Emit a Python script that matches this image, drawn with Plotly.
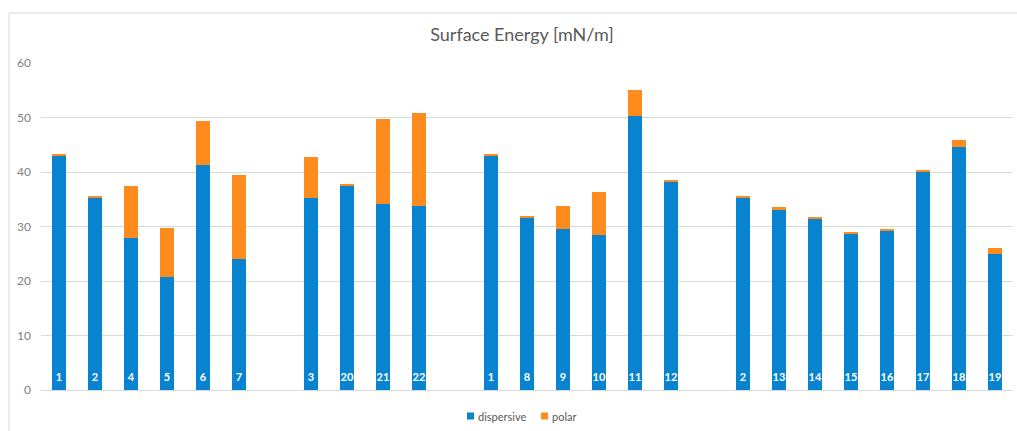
import plotly.graph_objects as go

# Sample groups (bar labels), in plotting order; a blank slot separates groups
groups = [
    ["1", "2", "4", "5", "6", "7"],
    ["3", "20", "21", "22"],
    ["1", "8", "9", "10", "11", "12"],
    ["2", "13", "14", "15", "16", "17", "18", "19"],
]

# Surface energy components [mN/m]
dispersive = [
    43.0, 35.3, 27.8, 20.8, 41.2, 24.1,
    35.2, 37.5, 34.1, 33.8,
    43.0, 31.7, 29.5, 28.4, 50.3, 38.3,
    35.3, 33.2, 31.3, 28.7, 29.2, 40.1, 44.6, 25.0,
]
polar = [
    0.2, 0.2, 9.6, 9.0, 8.2, 15.3,
    7.5, 0.2, 15.7, 17.0,
    0.2, 0.2, 4.2, 8.0, 4.8, 0.2,
    0.2, 0.3, 0.5, 0.2, 0.2, 0.2, 1.3, 1.1,
]

series_names = ["dispersive", "polar"]
y_ticks = [0, 10, 20, 30, 40, 50, 60]

# Slot positions: one slot per bar, plus an empty slot between groups
labels, slots = [], []
pos = 0
for gi, g in enumerate(groups):
    if gi > 0:
        pos += 1
    for name in g:
        labels.append(name)
        slots.append(pos)
        pos += 1
n_slots = pos

BLUE = "#0783d0"
ORANGE = "#fd8b1e"
GREY = "#595959"
TICK_GREY = "#808080"
FONT = "Lato"

# Plot-area geometry in pixels, used to place the frame and legend in paper units
W, H = 1017, 431
ML, MR, MT, MB = 41, 4, 63, 41
PW, PH = W - ML - MR, H - MT - MB


def px_x(px):
    return (px - ML) / PW


def px_y(py):
    return (H - MB - py) / PH


fig = go.Figure()
fig.add_trace(go.Bar(
    x=slots, y=dispersive, name=series_names[0],
    marker=dict(color=BLUE, line=dict(width=0)), width=0.39,
))
fig.add_trace(go.Bar(
    x=slots, y=polar, name=series_names[1],
    marker=dict(color=ORANGE, line=dict(width=0)), width=0.39,
))
# Sample numbers written at the foot of each bar
fig.add_trace(go.Scatter(
    x=slots, y=[2.2] * len(slots), mode="text", text=labels,
    textfont=dict(family=FONT, size=11, color="white", weight="bold"),
    showlegend=False, hoverinfo="skip",
))

fig.update_layout(
    barmode="stack",
    width=W, height=H,
    margin=dict(l=ML, r=MR, t=MT, b=MB),
    paper_bgcolor="white", plot_bgcolor="white",
    font=dict(family=FONT, color=GREY),
    title=dict(
        text="Surface Energy [mN/m]", x=px_x(522), xref="paper", xanchor="center",
        y=1 - 35 / H, yref="container", yanchor="middle",
        font=dict(family=FONT, size=18, color=GREY),
    ),
    showlegend=False,
)
fig.update_xaxes(
    range=[-0.5, n_slots - 0.5], showticklabels=False, showgrid=False,
    zeroline=False, showline=False, ticks="",
)
fig.update_yaxes(
    range=[0, 60], tickvals=y_ticks, showgrid=True, gridcolor="#d9d9d9",
    gridwidth=1, zeroline=True, zerolinecolor="#d9d9d9", zerolinewidth=1,
    tickfont=dict(family=FONT, size=12, color=TICK_GREY), ticklabelstandoff=9,
)

# Outer chart frame (left and top edges)
fig.add_shape(type="line", xref="paper", yref="paper",
              x0=px_x(9), x1=px_x(9), y0=px_y(13), y1=px_y(440),
              line=dict(color="#d9d9d9", width=1))
fig.add_shape(type="line", xref="paper", yref="paper",
              x0=px_x(9), x1=px_x(1020), y0=px_y(13), y1=px_y(13),
              line=dict(color="#d9d9d9", width=1))

# Legend: small colour squares followed by the series names
legend_y = 416
for name, color, x_sq in zip(series_names, [BLUE, ORANGE], [467, 541]):
    fig.add_shape(type="rect", xref="paper", yref="paper",
                  x0=px_x(x_sq), x1=px_x(x_sq + 7),
                  y0=px_y(legend_y + 3.5), y1=px_y(legend_y - 3.5),
                  fillcolor=color, line=dict(width=0))
    fig.add_annotation(xref="paper", yref="paper", x=px_x(x_sq + 9),
                       y=px_y(legend_y), xanchor="left", yanchor="middle",
                       text=name, showarrow=False,
                       font=dict(family=FONT, size=11, color=GREY))

fig.write_html("out.html")
